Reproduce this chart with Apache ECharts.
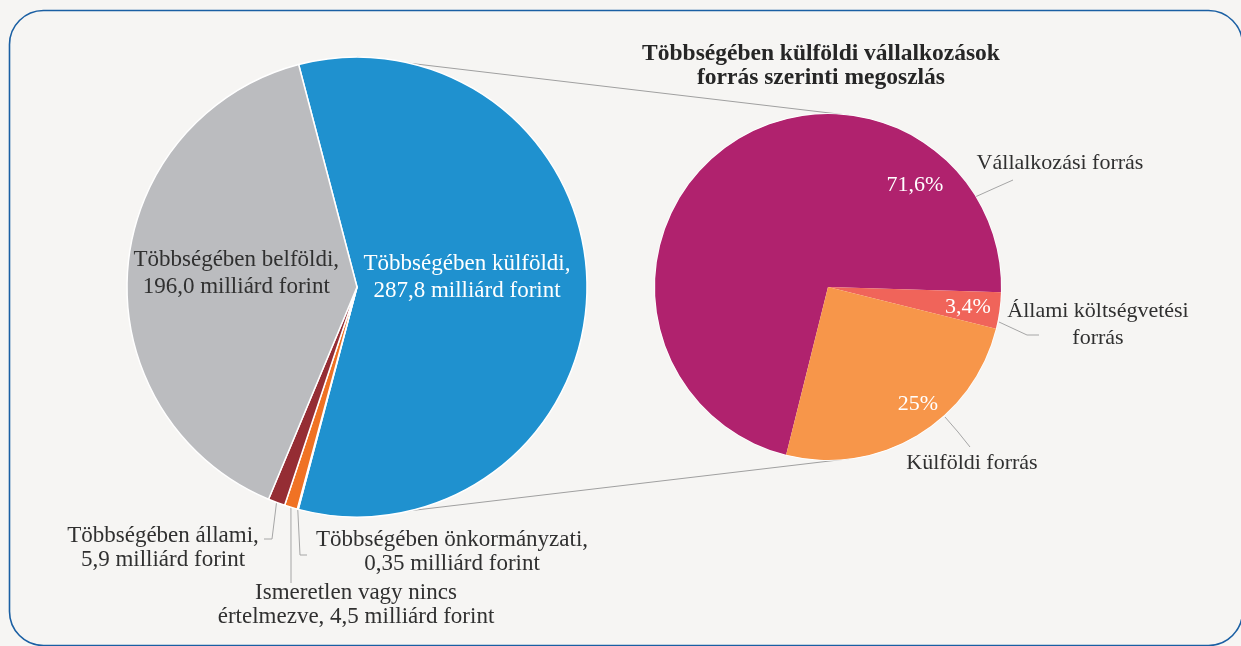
<!DOCTYPE html>
<html>
<head>
<meta charset="utf-8">
<title>Többségében külföldi vállalkozások</title>
<script src="https://cdn.jsdelivr.net/npm/echarts@6/dist/echarts.min.js"></script>
<style>
    * {
        margin: 0;
        padding: 0;
    }
    html, body {
        background: #f6f5f3;
    }
</style>
</head>
<body>
<!-- 为echarts准备一个具备大小的容器dom -->
<div id="main" style="width:1241px;height:646px;"></div>
<script>
// bal oldali kör: tulajdonos szerint (milliárd forint)
var leftNames = ['Többségében külföldi', 'Többségében önkormányzati', 'Ismeretlen vagy nincs\nértelmezve', 'Többségében állami', 'Többségében belföldi'];
var leftValues = [287.8, 0.35, 4.5, 5.9, 196.0];
var leftColors = ['#1f91cf', '#e6e6e6', '#f07224', '#952d34', '#bbbcbf'];

// jobb oldali kör: forrás szerint (%)
var rightNames = ['Vállalkozási forrás', 'Állami költségvetési\nforrás', 'Külföldi forrás'];
var rightShares = [71.6, 3.4, 25];
var rightColors = ['#b0226e', '#f0645a', '#f7964a'];

var titleText = 'Többségében külföldi vállalkozások\nforrás szerinti megoszlás';

var font = '"Liberation Serif", "DejaVu Serif", serif';
var textColor = '#303030';
var lineColor = '#a6a6a6';

// kör geometria
var leftCenter = [357, 287], leftR = 230;
var rightCenter = [828, 287], rightR = 173;

// címkék helye
var leftLabelPos = {
    0: { dx: -8, dy: -10 },
    1: { x: 452, y: 552, line: [[300, 555], [307, 555]] },
    2: { x: 356, y: 605, line: [[291, 560], [291, 583]] },
    3: { x: 163, y: 548, line: [[272, 539], [264, 539]] },
    4: { dx: -3, dy: -5 }
};
var rightNamePos = {
    0: { x: 1060, y: 163, line: [[975, 197], [995, 188], [1013, 180]] },
    1: { x: 1098, y: 325, line: [[999, 322], [1027, 335], [1039, 335]] },
    2: { x: 972, y: 463, line: [[945, 417], [958, 432], [970, 447]] }
};
var rightPctPos = {
    0: { x: 915, y: 185 },
    1: { x: 968, y: 307 },
    2: { x: 918, y: 404 }
};

function huNum(v) {
    var s = v >= 100 ? v.toFixed(1) : String(v);
    return s.replace('.', ',');
}

var leftData = leftNames.map(function (n, i) {
    var outside = i >= 1 && i <= 3;
    return {
        name: n,
        value: leftValues[i],
        itemStyle: { color: leftColors[i] },
        label: {
            position: outside ? 'outside' : 'inside',
            color: i === 0 ? '#ffffff' : textColor,
            lineHeight: outside ? 24 : 27
        }
    };
});

var rightData = rightNames.map(function (n, i) {
    return { name: n, value: rightShares[i], itemStyle: { color: rightColors[i] } };
});

// a két kört összekötő vonalak
function connector(sign) {
    var a = 83 * Math.PI / 180;
    return {
        type: 'line',
        z: 0,
        shape: {
            x1: leftCenter[0],
            y1: leftCenter[1] + sign * leftR,
            x2: rightCenter[0] + rightR * Math.cos(a),
            y2: rightCenter[1] + sign * rightR * Math.sin(a)
        },
        style: { stroke: '#a0a0a0', lineWidth: 1 }
    };
}

var chart = echarts.init(document.getElementById('main'));
chart.setOption({
    backgroundColor: '#f6f5f3',
    animation: false,
    textStyle: { fontFamily: font },
    graphic: [
        {
            type: 'rect',
            z: -1,
            shape: { x: 9.5, y: 10.5, width: 1233, height: 635, r: 34 },
            style: { fill: 'none', stroke: '#1a5fa3', lineWidth: 1.6 }
        },
        connector(-1),
        connector(1),
        {
            type: 'text',
            x: 821,
            y: 42,
            style: {
                text: titleText,
                align: 'center',
                verticalAlign: 'top',
                font: 'bold 23.5px ' + font,
                lineHeight: 24,
                fill: '#262626'
            }
        }
    ],
    series: [
        {
            type: 'pie',
            center: leftCenter,
            radius: leftR,
            startAngle: 104.7,
            clockwise: true,
            itemStyle: { borderColor: '#ffffff', borderWidth: 1.5 },
            label: {
                fontFamily: font,
                fontSize: 23,
                lineHeight: 26,
                align: 'center',
                overflow: 'none',
                formatter: function (p) {
                    var v = huNum(p.value) + ' milliárd forint';
                    return p.name.indexOf('\n') >= 0 ? p.name + ', ' + v : p.name + ',\n' + v;
                }
            },
            labelLine: { show: true, lineStyle: { color: lineColor, width: 1 } },
            labelLayout: function (p) {
                var pos = leftLabelPos[p.dataIndex];
                if (!pos.line) return { dx: pos.dx, dy: pos.dy };
                var start = p.labelLinePoints ? p.labelLinePoints[0] : pos.line[0];
                return {
                    x: pos.x,
                    y: pos.y,
                    align: 'center',
                    verticalAlign: 'middle',
                    labelLinePoints: [start].concat(pos.line)
                };
            },
            emphasis: { disabled: true },
            data: leftData
        },
        {
            // nevek kívül
            type: 'pie',
            center: rightCenter,
            radius: rightR,
            startAngle: 256,
            clockwise: true,
            itemStyle: { borderColor: '#ffffff', borderWidth: 1.5 },
            label: {
                position: 'outside',
                fontFamily: font,
                fontSize: 22,
                lineHeight: 27,
                color: textColor,
                align: 'center',
                overflow: 'none',
                formatter: '{b}'
            },
            labelLine: { show: true, lineStyle: { color: lineColor, width: 1 } },
            labelLayout: function (p) {
                var pos = rightNamePos[p.dataIndex];
                return {
                    x: pos.x,
                    y: pos.y,
                    align: 'center',
                    verticalAlign: 'middle',
                    labelLinePoints: pos.line
                };
            },
            emphasis: { disabled: true },
            data: rightData
        },
        {
            // százalékok belül
            type: 'pie',
            center: rightCenter,
            radius: rightR,
            startAngle: 256,
            clockwise: true,
            silent: true,
            z: 3,
            itemStyle: { color: 'rgba(0,0,0,0)', borderWidth: 0 },
            label: {
                position: 'inside',
                fontFamily: font,
                fontSize: 22,
                color: '#ffffff',
                formatter: function (p) {
                    return huNum(p.value) + '%';
                }
            },
            labelLine: { show: false },
            labelLayout: function (p) {
                var pos = rightPctPos[p.dataIndex];
                return { x: pos.x, y: pos.y, align: 'center', verticalAlign: 'middle' };
            },
            emphasis: { disabled: true },
            data: rightData
        }
    ]
});
</script>
</body>
</html>
